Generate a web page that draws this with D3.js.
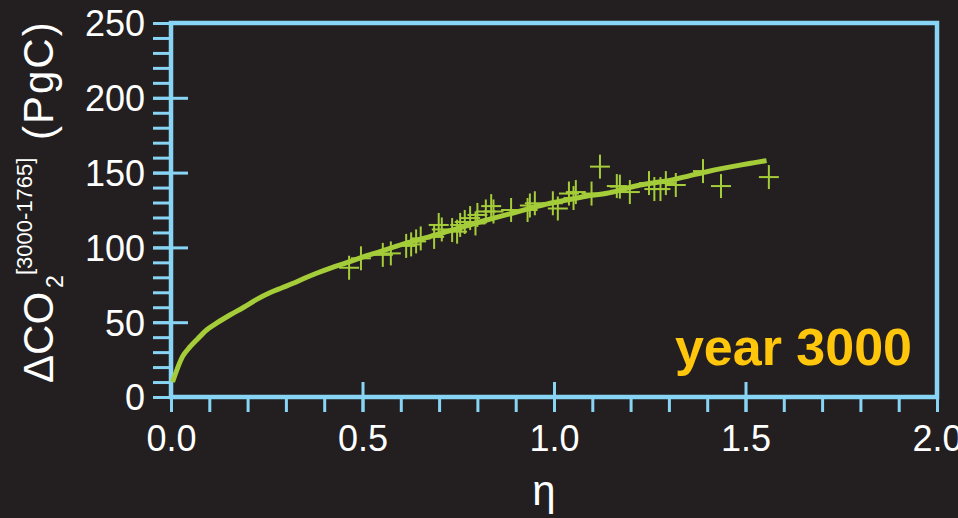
<!DOCTYPE html>
<html>
<head>
<meta charset="utf-8">
<script src="https://cdn.jsdelivr.net/npm/d3@7"></script>
<style>
  html, body { margin: 0; padding: 0; background: #231f20; }
  svg { display: block; }
</style>
</head>
<body>
<svg id="chart" width="958" height="518"></svg>
<script>
// ---- data ----
const curveEta = [0.004, 0.03, 0.05, 0.07, 0.093, 0.12, 0.154, 0.19, 0.224, 0.258, 0.29, 0.319, 0.35, 0.38, 0.42, 0.459, 0.5, 0.55, 0.589, 0.63, 0.676, 0.72, 0.763, 0.81, 0.85, 0.9, 0.937, 0.99, 1.04, 1.09, 1.138, 1.18, 1.225, 1.27, 1.311, 1.355, 1.399, 1.44, 1.486, 1.52, 1.555];
const curveCO2 = [10, 27, 33.6, 39, 44.8, 49.5, 54.8, 60, 65.3, 69.7, 73, 76, 79.5, 82.7, 86.5, 89.8, 93.5, 97.5, 100.9, 104, 107.2, 110.5, 113.8, 117.3, 120.1, 123.5, 126.1, 129.5, 132, 134.5, 136.2, 138.8, 141.7, 143.5, 145.3, 148, 150.6, 152.8, 155, 156.5, 158];

const obsEta = [0.465, 0.496, 0.553, 0.574, 0.614, 0.627, 0.640, 0.652, 0.687, 0.699, 0.707, 0.734, 0.747, 0.755, 0.767, 0.781, 0.795, 0.800, 0.822, 0.836, 0.842, 0.888, 0.931, 0.937, 0.950, 0.997, 1.010, 1.039, 1.051, 1.057, 1.098, 1.120, 1.164, 1.172, 1.198, 1.248, 1.262, 1.278, 1.292, 1.318, 1.389, 1.436, 1.561];
const obsCO2 = [86.4, 92.7, 95, 96, 101, 102, 104, 106, 107, 115, 112, 111.6, 110.5, 115, 117, 119.6, 116, 121.7, 124, 127.6, 124, 125, 125, 128, 129.5, 129.5, 126, 136, 133, 137, 136, 154, 141, 140.6, 137, 143, 139, 139, 143, 141.7, 151, 141, 147];

const xTicks = [0, 0.5, 1.0, 1.5, 2.0];
const xTickLabels = ["0.0", "0.5", "1.0", "1.5", "2.0"];
const xMinorTicks = [0, 0.1, 0.2, 0.3, 0.4, 0.5, 0.6, 0.7, 0.8, 0.9, 1.0, 1.1, 1.2, 1.3, 1.4, 1.5, 1.6, 1.7, 1.8, 1.9, 2.0];
const yTicks = [0, 50, 100, 150, 200, 250];
const yMinorTicks = [0, 10, 20, 30, 40, 50, 60, 70, 80, 90, 100, 110, 120, 130, 140, 150, 160, 170, 180, 190, 200, 210, 220, 230, 240, 250];

const xLabel = "η";
const annotation = "year 3000";

// ---- styles ----
const BG = "#231f20";
const AXIS = "#88d4f4";
const GREEN = "#a4cd39";
const GOLD = "#ffc60b";
const FONT = "'Liberation Sans', Arial, Helvetica, sans-serif";

const svg = d3.select("#chart");
svg.append("rect").attr("width", 958).attr("height", 518).attr("fill", BG);

const L = 171, R = 937, T = 23, B = 397;
const x = d3.scaleLinear().domain([0, 2]).range([L, R]);
const y = d3.scaleLinear().domain([0, 250]).range([B, T]);

function styleAxis(g) {
  g.select(".domain").remove();
  g.selectAll(".tick line").attr("stroke", AXIS).attr("stroke-width", 3);
  g.selectAll(".tick text").attr("fill", "#ffffff").attr("font-family", FONT).attr("font-size", 36);
}

// y minor ticks (outside)
svg.append("g").attr("transform", `translate(${L},0)`)
  .call(d3.axisLeft(y).tickValues(yMinorTicks).tickSize(18).tickFormat(""))
  .call(styleAxis);
// y major ticks inside
svg.append("g").attr("transform", `translate(${L},0)`)
  .call(d3.axisRight(y).tickValues(yTicks).tickSize(17).tickFormat(""))
  .call(styleAxis);
// y major labels
svg.append("g").attr("transform", `translate(${L},0)`)
  .call(d3.axisLeft(y).tickValues(yTicks).tickSize(18).tickPadding(8).tickFormat(d3.format("d")))
  .call(styleAxis)
  .call(g => g.selectAll(".tick text").attr("dy", "0.36em"));

// x minor ticks (outside)
svg.append("g").attr("transform", `translate(0,${B})`)
  .call(d3.axisBottom(x).tickValues(xMinorTicks).tickSize(15).tickFormat(""))
  .call(styleAxis);
// x major ticks inside
svg.append("g").attr("transform", `translate(0,${B})`)
  .call(d3.axisTop(x).tickValues(xTicks).tickSize(15).tickFormat(""))
  .call(styleAxis);
// x labels
svg.append("g").attr("transform", `translate(0,${B})`)
  .call(d3.axisBottom(x).tickValues(xTicks).tickSize(15).tickFormat((d, i) => xTickLabels[i]))
  .call(styleAxis)
  .call(g => g.selectAll(".tick text").attr("y", 54).attr("dy", 0));

// frame
svg.append("rect")
  .attr("x", L).attr("y", T).attr("width", R - L).attr("height", B - T)
  .attr("fill", "none").attr("stroke", AXIS).attr("stroke-width", 4.5);

// curve
const line = d3.line().x(d => x(d[0])).y(d => y(d[1])).curve(d3.curveMonotoneX);
svg.append("path")
  .datum(curveEta.map((e, i) => [e, curveCO2[i]]))
  .attr("d", line)
  .attr("fill", "none").attr("stroke", GREEN).attr("stroke-width", 5)
  .attr("stroke-linejoin", "round");

// observations as + markers
const pts = obsEta.map((e, i) => [e, obsCO2[i]]);
const mk = svg.append("g").attr("stroke", GREEN).attr("stroke-width", 2);
mk.selectAll("line.h").data(pts).join("line").attr("class", "h")
  .attr("x1", d => x(d[0]) - 10).attr("x2", d => x(d[0]) + 10)
  .attr("y1", d => y(d[1])).attr("y2", d => y(d[1]));
mk.selectAll("line.v").data(pts).join("line").attr("class", "v")
  .attr("x1", d => x(d[0])).attr("x2", d => x(d[0]))
  .attr("y1", d => y(d[1]) - 12).attr("y2", d => y(d[1]) + 12);

// annotation
svg.append("text")
  .attr("x", 912).attr("y", 365)
  .attr("text-anchor", "end")
  .attr("font-family", FONT).attr("font-weight", "bold").attr("font-size", 52)
  .attr("fill", GOLD)
  .text(annotation);

// x axis title
svg.append("text")
  .attr("x", 544).attr("y", 505)
  .attr("text-anchor", "middle")
  .attr("font-family", FONT).attr("font-size", 42)
  .attr("fill", "#ffffff")
  .text(xLabel);

// y axis title
const yt = svg.append("g").attr("transform", "translate(53,383) rotate(-90)")
  .attr("fill", "#ffffff").attr("font-family", FONT);
yt.append("text").attr("x", 0).attr("y", 0).attr("font-size", 42).text("ΔCO");
yt.append("text").attr("x", 95).attr("y", 10).attr("font-size", 23).text("2");
yt.append("text").attr("x", 108).attr("y", -21).attr("font-size", 22).text("[3000-1765]");
yt.append("text").attr("x", 243).attr("y", 0).attr("font-size", 42).attr("letter-spacing", 2).text("(PgC)");
</script>
</body>
</html>
